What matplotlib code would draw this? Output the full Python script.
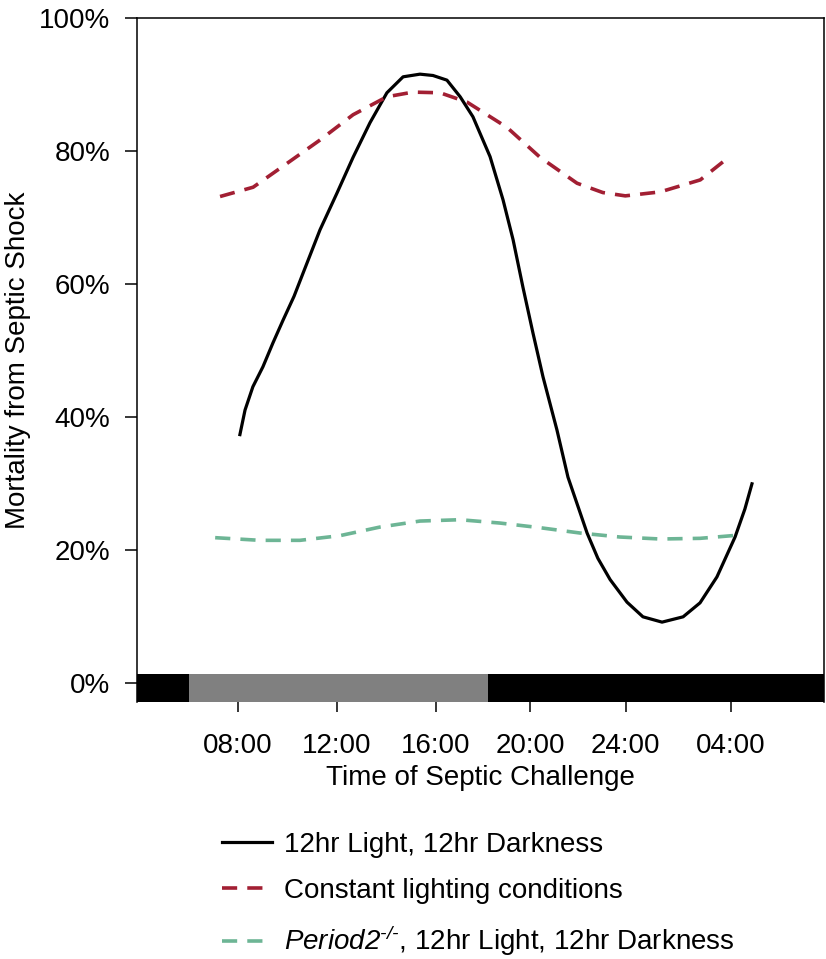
import matplotlib
matplotlib.use("Agg")
from matplotlib import pyplot as plt
import numpy as np

plt.rcParams['font.family'] = ['Liberation Sans', 'DejaVu Sans']
# math text is only used for the italic gene name, so make it all italic
plt.rcParams['mathtext.fontset'] = 'custom'
plt.rcParams['mathtext.rm'] = 'Liberation Sans:italic'
plt.rcParams['mathtext.it'] = 'Liberation Sans:italic'

# time of challenge in hours (8 = 08:00, 28 = 04:00 next day), mortality in %
ld_hours = [8.09, 8.30, 8.62, 9.03, 9.44, 9.85, 10.30, 10.67, 11.36, 12.05,
            12.71, 13.40, 14.09, 14.75, 15.44, 15.97, 16.54, 17.08, 17.60, 18.30,
            18.83, 19.24, 19.64, 20.05, 20.46, 21.03, 21.48, 22.26, 22.70, 23.20,
            23.89, 24.54, 25.32, 26.18, 26.87, 27.56, 28.30, 28.70, 28.99]
ld_mort = [37.4, 41.1, 44.6, 47.6, 51.2, 54.6, 58.2, 61.7, 68.2, 73.7,
           79.1, 84.3, 88.8, 91.2, 91.6, 91.4, 90.7, 88.2, 85.2, 79.2,
           72.7, 66.7, 59.6, 52.7, 46.1, 38.1, 31.0, 22.6, 18.8, 15.6,
           12.2, 10.0, 9.2, 10.0, 12.1, 16.0, 22.0, 26.2, 30.0]

const_hours = [7.28, 8.63, 10.02, 11.36, 12.71, 14.09, 15.15, 16.26, 17.36, 18.99,
               20.34, 21.85, 22.90, 23.82, 25.25, 26.88, 28.04]
const_mort = [73.2, 74.6, 78.2, 81.7, 85.5, 88.2, 88.9, 88.8, 87.4, 83.6,
              79.1, 75.2, 73.8, 73.3, 73.9, 75.7, 79.1]

per2_hours = [7.08, 8.91, 10.54, 12.17, 13.81, 15.44, 17.07, 18.70, 20.34, 21.97,
              23.60, 25.25, 26.87, 28.50]
per2_mort = [21.9, 21.5, 21.5, 22.2, 23.5, 24.4, 24.6, 24.1, 23.4, 22.6,
             22.0, 21.7, 21.8, 22.3]

# light/dark bar along the time axis
phase_edges = [3.89, 6.0, 18.2, 31.93]
phase_colors = ['black', '#808080', 'black']

tick_hours = [8.0, 12.05, 16.08, 19.95, 23.84, 28.12]
tick_labels = ['08:00', '12:00', '16:00', '20:00', '24:00', '04:00']
y_ticks = [0, 20, 40, 60, 80, 100]
y_labels = ['0%', '20%', '40%', '60%', '80%', '100%']

fs = 20

fig = plt.figure(figsize=(8.26, 9.59), dpi=100)
ax = fig.add_axes([137/826, 1 - 702/959, (824-137)/826, (702-18.3)/959])

for i in range(len(phase_colors)):
    ax.broken_barh([(phase_edges[i], phase_edges[i+1] - phase_edges[i])], (-2.81, 4.21),
                   facecolors=phase_colors[i], edgecolor='none', zorder=3)

ax.plot(ld_hours, ld_mort, color='black', lw=2.3, label='12hr Light, 12hr Darkness',
        solid_joinstyle='round')
ax.plot(const_hours, const_mort, color='#A21F33', lw=2.6, dashes=(4.2, 2.8),
        label='Constant lighting conditions')
ax.plot(per2_hours, per2_mort, color='#6DB595', lw=2.6, dashes=(4.2, 2.8),
        label=r'$\mathrm{Period2}^{\text{-/-}}$, 12hr Light, 12hr Darkness')

ax.set_xlim(phase_edges[0], phase_edges[-1])
ax.set_ylim(-2.81, 100)
ax.set_xticks(tick_hours)
ax.set_xticklabels(tick_labels)
ax.set_yticks(y_ticks)
ax.set_yticklabels(y_labels)
ax.spines['bottom'].set_visible(False)
for s in ['top', 'left', 'right']:
    ax.spines[s].set_linewidth(1.1)
ax.tick_params(axis='y', length=9, width=1.1, pad=10, labelsize=fs)
ax.tick_params(axis='x', length=7.5, width=1.1, pad=15, labelsize=fs)

ax.set_xlabel('Time of Septic Challenge', fontsize=fs, labelpad=4)
ax.set_ylabel('Mortality from Septic Shock', fontsize=fs, labelpad=6)

fig.legend(loc='center left', bbox_to_anchor=(222/826, 1 - 895/959), frameon=False,
           fontsize=fs, handlelength=1.8, handletextpad=0.42, labelspacing=0.72,
           borderpad=0, borderaxespad=0)

plt.savefig('out.png', dpi=100)
